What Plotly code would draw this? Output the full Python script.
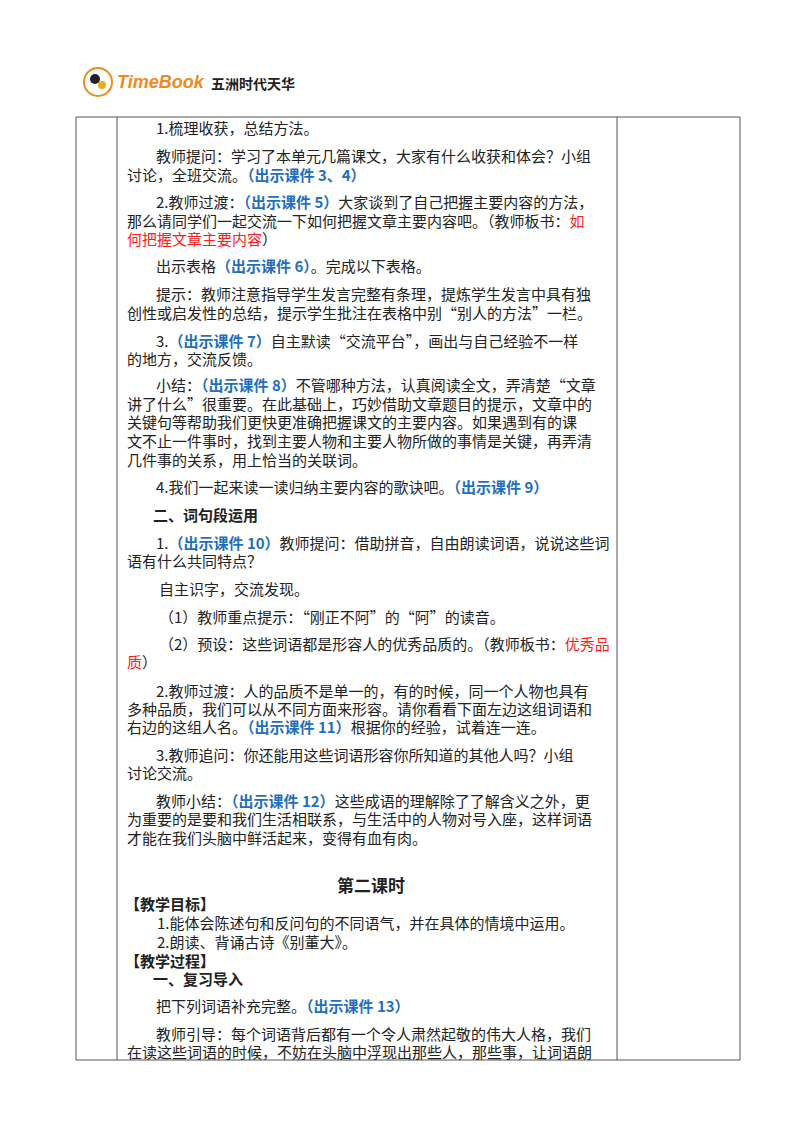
import plotly.graph_objects as go

BLUE = "#1f6fc0"
RED = "#ff1a1a"
def B(s): return f"<b><span style='color:{BLUE}'>{s}</span></b>"
def R(s): return f"<span style='color:{RED}'>{s}</span>"
def K(s): return f"<b>{s}</b>"

# text lines of the page
lines = [
    "1.梳理收获，总结方法。",
    "教师提问：学习了本单元几篇课文，大家有什么收获和体会？小组",
    "讨论，全班交流。" + B("（出示课件 3、4）"),
    "2.教师过渡：" + B("（出示课件 5）") + "大家谈到了自己把握主要内容的方法，",
    "那么请同学们一起交流一下如何把握文章主要内容吧。（教师板书：" + R("如"),
    R("何把握文章主要内容") + "）",
    "出示表格" + B("（出示课件 6）") + "。完成以下表格。",
    "提示：教师注意指导学生发言完整有条理，提炼学生发言中具有独",
    "创性或启发性的总结，提示学生批注在表格中别“别人的方法”一栏。",
    "3." + B("（出示课件 7）") + "自主默读“交流平台”，画出与自己经验不一样",
    "的地方，交流反馈。",
    "小结：" + B("（出示课件 8）") + "不管哪种方法，认真阅读全文，弄清楚“文章",
    "讲了什么”很重要。在此基础上，巧妙借助文章题目的提示，文章中的",
    "关键句等帮助我们更快更准确把握课文的主要内容。如果遇到有的课",
    "文不止一件事时，找到主要人物和主要人物所做的事情是关键，再弄清",
    "几件事的关系，用上恰当的关联词。",
    "4.我们一起来读一读归纳主要内容的歌诀吧。" + B("（出示课件 9）"),
    K("二、词句段运用"),
    "1." + B("（出示课件 10）") + "教师提问：借助拼音，自由朗读词语，说说这些词",
    "语有什么共同特点？",
    "自主识字，交流发现。",
    "（1）教师重点提示：“刚正不阿”的“阿”的读音。",
    "（2）预设：这些词语都是形容人的优秀品质的。（教师板书：" + R("优秀品"),
    R("质") + "）",
    "2.教师过渡：人的品质不是单一的，有的时候，同一个人物也具有",
    "多种品质，我们可以从不同方面来形容。请你看看下面左边这组词语和",
    "右边的这组人名。" + B("（出示课件 11）") + "根据你的经验，试着连一连。",
    "3.教师追问：你还能用这些词语形容你所知道的其他人吗？小组",
    "讨论交流。",
    "教师小结：" + B("（出示课件 12）") + "这些成语的理解除了了解含义之外，更",
    "为重要的是要和我们生活相联系，与生活中的人物对号入座，这样词语",
    "才能在我们头脑中鲜活起来，变得有血有肉。",
    K("第二课时"),
    K("【教学目标】"),
    "1.能体会陈述句和反问句的不同语气，并在具体的情境中运用。",
    "2.朗读、背诵古诗《别董大》。",
    K("【教学过程】"),
    K("一、复习导入"),
    "把下列词语补充完整。" + B("（出示课件 13）"),
    "教师引导：每个词语背后都有一个令人肃然起敬的伟大人格，我们",
    "在读这些词语的时候，不妨在头脑中浮现出那些人，那些事，让词语朗",
]
line_y = [119, 147, 166, 193, 212, 230, 257, 285, 304, 332, 350, 376, 395, 413, 432,
          451, 478, 506, 534, 552, 580, 608, 635, 653, 682, 700, 718, 746, 764, 792,
          810, 829, 876, 895, 914, 933, 952, 970, 997, 1025, 1043]
line_x = [146, 146, 117, 146, 117, 117, 146, 146, 117, 146, 117, 146, 117, 117, 117,
          117, 146, 143, 146, 117, 149, 149, 149, 117, 146, 117, 117, 146, 117, 146,
          117, 117, None, 115, 147, 147, 115, 143, 146, 146, 117]

fig = go.Figure()
anns = []
for t, x, y in zip(lines, line_x, line_y):
    if x is None:
        anns.append(dict(x=363, y=y, text=t, xanchor="center", yanchor="middle",
                         showarrow=False, font=dict(size=17)))
    else:
        anns.append(dict(x=x, y=y, text=t, xanchor="left", yanchor="middle",
                         showarrow=False, font=dict(size=15)))
# logo
anns.append(dict(x=107, y=74, text="<b><i>TimeBook</i></b>", xanchor="left", yanchor="middle",
                 showarrow=False, font=dict(size=18, color="#f08a1c", family="Liberation Sans")))
anns.append(dict(x=201, y=75, text="<b>五洲时代天华</b>", xanchor="left", yanchor="middle",
                 showarrow=False, font=dict(size=14, color="#222")))

shapes = []
L = dict(color="#555", width=1)
for xv in [68, 109, 609, 732]:
    shapes.append(dict(type="line", x0=xv, x1=xv, y0=109, y1=1052, line=L))
for yv in [109, 1052]:
    shapes.append(dict(type="line", x0=68, x1=732, y0=yv, y1=yv, line=L))
shapes.append(dict(type="circle", x0=76, x1=104, y0=60, y1=88, fillcolor="white",
                   line=dict(color="#f08a1c", width=2)))
shapes.append(dict(type="circle", x0=82, x1=92, y0=66, y1=76, fillcolor="#222", line=dict(width=0)))
shapes.append(dict(type="circle", x0=90, x1=98, y0=73, y1=81, fillcolor="#e8b020", line=dict(width=0)))

fig.update_layout(
    width=800, height=1132, margin=dict(l=0, r=0, t=0, b=0),
    paper_bgcolor="white", plot_bgcolor="white",
    xaxis=dict(range=[0, 800], visible=False, fixedrange=True),
    yaxis=dict(range=[1132, 0], visible=False, fixedrange=True),
    font=dict(family="Noto Sans CJK SC", color="#222"),
    annotations=anns, shapes=shapes, showlegend=False,
)
fig.write_html("out.html", config={"displayModeBar": False})
